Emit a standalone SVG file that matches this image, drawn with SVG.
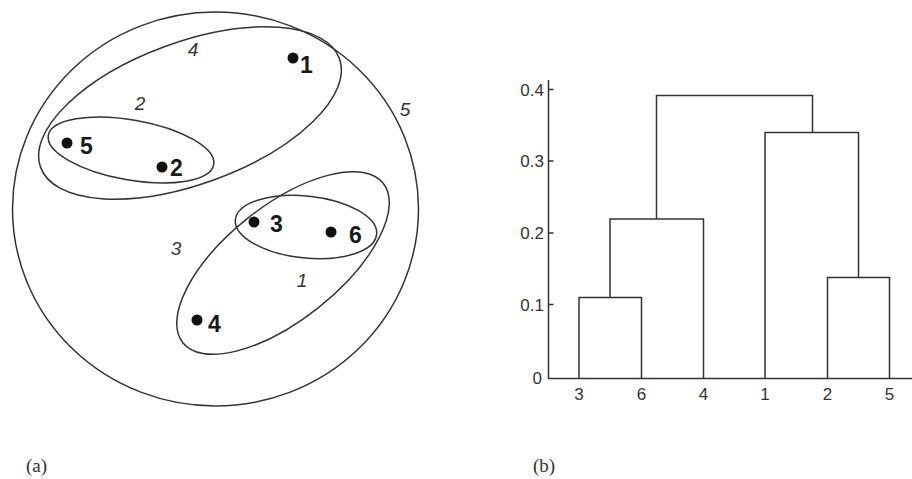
<svg xmlns="http://www.w3.org/2000/svg" width="912" height="479" viewBox="0 0 912 479">
<style>
.ln{fill:none;stroke:#333;stroke-width:1.5}
.dot{fill:#111}
.pl{font-family:"Liberation Sans",Arial,sans-serif;font-weight:bold;font-size:23px;fill:#1a1a1a}
.cl{font-family:"Liberation Sans",Arial,sans-serif;font-style:italic;font-size:19px;fill:#333;text-anchor:middle}
.ax{font-family:"Liberation Sans",Arial,sans-serif;font-size:17px;fill:#333}
.cap{font-family:"Liberation Serif","Times New Roman",serif;font-size:19px;fill:#333}
</style>
<rect width="912" height="479" fill="#fff"/>
<g id="panel-a">
  <g id="cluster5"><ellipse class="ln" cx="215.5" cy="209" rx="203" ry="197"/><text class="cl" x="405" y="116">5</text></g>
  <g id="cluster4"><ellipse class="ln" cx="190" cy="113" rx="159" ry="71" transform="rotate(-20 190 113)"/><text class="cl" x="193" y="56">4</text></g>
  <g id="cluster2"><ellipse class="ln" cx="131" cy="150" rx="84" ry="30" transform="rotate(10 131 150)"/><text class="cl" x="140" y="110">2</text></g>
  <g id="cluster3"><ellipse class="ln" cx="283" cy="263" rx="128" ry="57" transform="rotate(-38.5 283 263)"/><text class="cl" x="176" y="255">3</text></g>
  <g id="cluster1"><ellipse class="ln" cx="306" cy="227" rx="71" ry="31" transform="rotate(6 306 227)"/><text class="cl" x="302" y="287">1</text></g>
  <g id="p1"><circle class="dot" cx="293" cy="58" r="5.5"/><text class="pl" x="300" y="73">1</text></g>
  <g id="p5"><circle class="dot" cx="67" cy="143" r="5.5"/><text class="pl" x="80" y="154">5</text></g>
  <g id="p2"><circle class="dot" cx="162" cy="167" r="5.5"/><text class="pl" x="170" y="176">2</text></g>
  <g id="p3"><circle class="dot" cx="254" cy="222" r="5.5"/><text class="pl" x="270" y="232">3</text></g>
  <g id="p6"><circle class="dot" cx="331" cy="232" r="5.5"/><text class="pl" x="349" y="243">6</text></g>
  <g id="p4"><circle class="dot" cx="197" cy="320" r="5.5"/><text class="pl" x="208" y="332">4</text></g>
</g>
<g id="panel-b">
  <g id="axes">
    <path class="ln" d="M548.5 80 V378.5 H912"/>
    <path class="ln" d="M548.5 89.5 h5 M548.5 161 h5 M548.5 233 h5 M548.5 304.5 h5"/>
    <text class="ax" x="544" y="96" text-anchor="end">0.4</text>
    <text class="ax" x="544" y="167" text-anchor="end">0.3</text>
    <text class="ax" x="544" y="239" text-anchor="end">0.2</text>
    <text class="ax" x="544" y="311" text-anchor="end">0.1</text>
    <text class="ax" x="542" y="384" text-anchor="end">0</text>
    <text class="ax" x="579" y="400" text-anchor="middle">3</text>
    <text class="ax" x="641.5" y="400" text-anchor="middle">6</text>
    <text class="ax" x="703.5" y="400" text-anchor="middle">4</text>
    <text class="ax" x="765" y="400" text-anchor="middle">1</text>
    <text class="ax" x="827.5" y="400" text-anchor="middle">2</text>
    <text class="ax" x="889.5" y="400" text-anchor="middle">5</text>
  </g>
  <g id="links">
    <path class="ln" d="M579 378.5 V297.5 H641.5 V378.5"/>
    <path class="ln" d="M610 297.5 V219 H703.5 V378.5"/>
    <path class="ln" d="M827.5 378.5 V277.5 H889.5 V378.5"/>
    <path class="ln" d="M765 378.5 V132.5 H858.5 V277.5"/>
    <path class="ln" d="M656.5 219 V95.5 H812.5 V132.5"/>
  </g>
</g>
<text class="cap" x="26" y="472">(a)</text>
<text class="cap" x="533" y="472">(b)</text>
</svg>
